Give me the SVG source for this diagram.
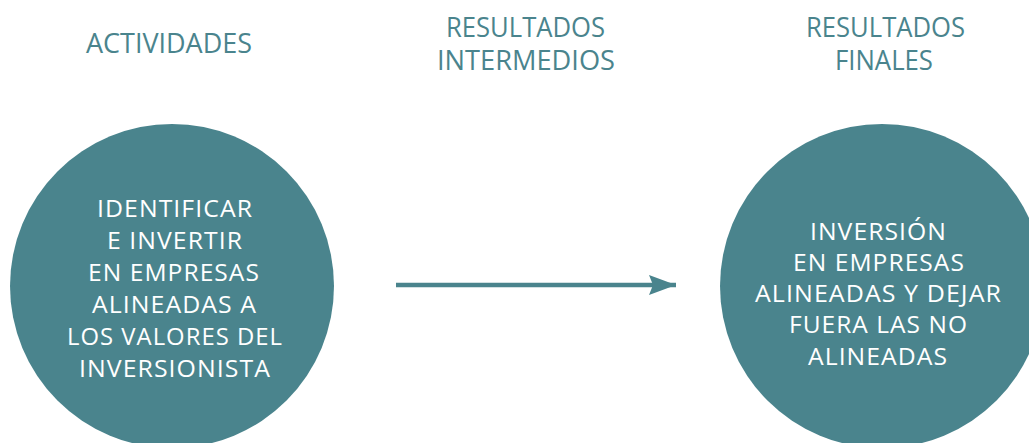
<svg xmlns="http://www.w3.org/2000/svg" width="1029" height="443" viewBox="0 0 1029 443">
<style>
.hdr{font-family:"Open Sans","Noto Sans",sans-serif;font-size:26.5px;fill:#4a848d;text-anchor:middle}
.circ{fill:#4a848d}
.lbl{font-family:"Open Sans","Noto Sans",sans-serif;font-size:23.5px;fill:#ffffff;text-anchor:middle;letter-spacing:1px}
</style>
<defs>
<marker id="ah" markerUnits="userSpaceOnUse" markerWidth="30" markerHeight="24" refX="27" refY="10" orient="auto" viewBox="0 0 30 20">
<path d="M0,0 L27,10 L0,20 L4,10 Z" fill="#4a848d"/>
</marker>
</defs>
<g id="headers">
<text class="hdr" x="169" y="53" textLength="166" lengthAdjust="spacingAndGlyphs">ACTIVIDADES</text>
<text class="hdr" x="525.5" y="37" textLength="159" lengthAdjust="spacingAndGlyphs">RESULTADOS</text>
<text class="hdr" x="526" y="70" textLength="178" lengthAdjust="spacingAndGlyphs">INTERMEDIOS</text>
<text class="hdr" x="885.5" y="37" textLength="159" lengthAdjust="spacingAndGlyphs">RESULTADOS</text>
<text class="hdr" x="884" y="70" textLength="98" lengthAdjust="spacingAndGlyphs">FINALES</text>
</g>
<g id="node-actividades">
<circle class="circ" cx="172" cy="286" r="162"/>
<text class="lbl" x="175" y="217" textLength="156" lengthAdjust="spacingAndGlyphs">IDENTIFICAR</text>
<text class="lbl" x="175" y="249" textLength="136" lengthAdjust="spacingAndGlyphs">E INVERTIR</text>
<text class="lbl" x="174" y="281" textLength="172" lengthAdjust="spacingAndGlyphs">EN EMPRESAS</text>
<text class="lbl" x="174.5" y="313" textLength="165" lengthAdjust="spacingAndGlyphs">ALINEADAS A</text>
<text class="lbl" x="175" y="345" textLength="216" lengthAdjust="spacingAndGlyphs">LOS VALORES DEL</text>
<text class="lbl" x="175" y="377" textLength="192" lengthAdjust="spacingAndGlyphs">INVERSIONISTA</text>
</g>
<g id="node-finales">
<circle class="circ" cx="882" cy="286" r="162"/>
<text class="lbl" x="878.5" y="240" textLength="137" lengthAdjust="spacingAndGlyphs">INVERSIÓN</text>
<text class="lbl" x="879" y="271" textLength="172" lengthAdjust="spacingAndGlyphs">EN EMPRESAS</text>
<text class="lbl" x="878.5" y="302" textLength="247" lengthAdjust="spacingAndGlyphs">ALINEADAS Y DEJAR</text>
<text class="lbl" x="878.5" y="333" textLength="179" lengthAdjust="spacingAndGlyphs">FUERA LAS NO</text>
<text class="lbl" x="878" y="365" textLength="140" lengthAdjust="spacingAndGlyphs">ALINEADAS</text>
</g>
<g id="connectors">
<line x1="396" y1="285" x2="676" y2="285" stroke="#4a848d" stroke-width="4.5" marker-end="url(#ah)"/>
</g>
</svg>
